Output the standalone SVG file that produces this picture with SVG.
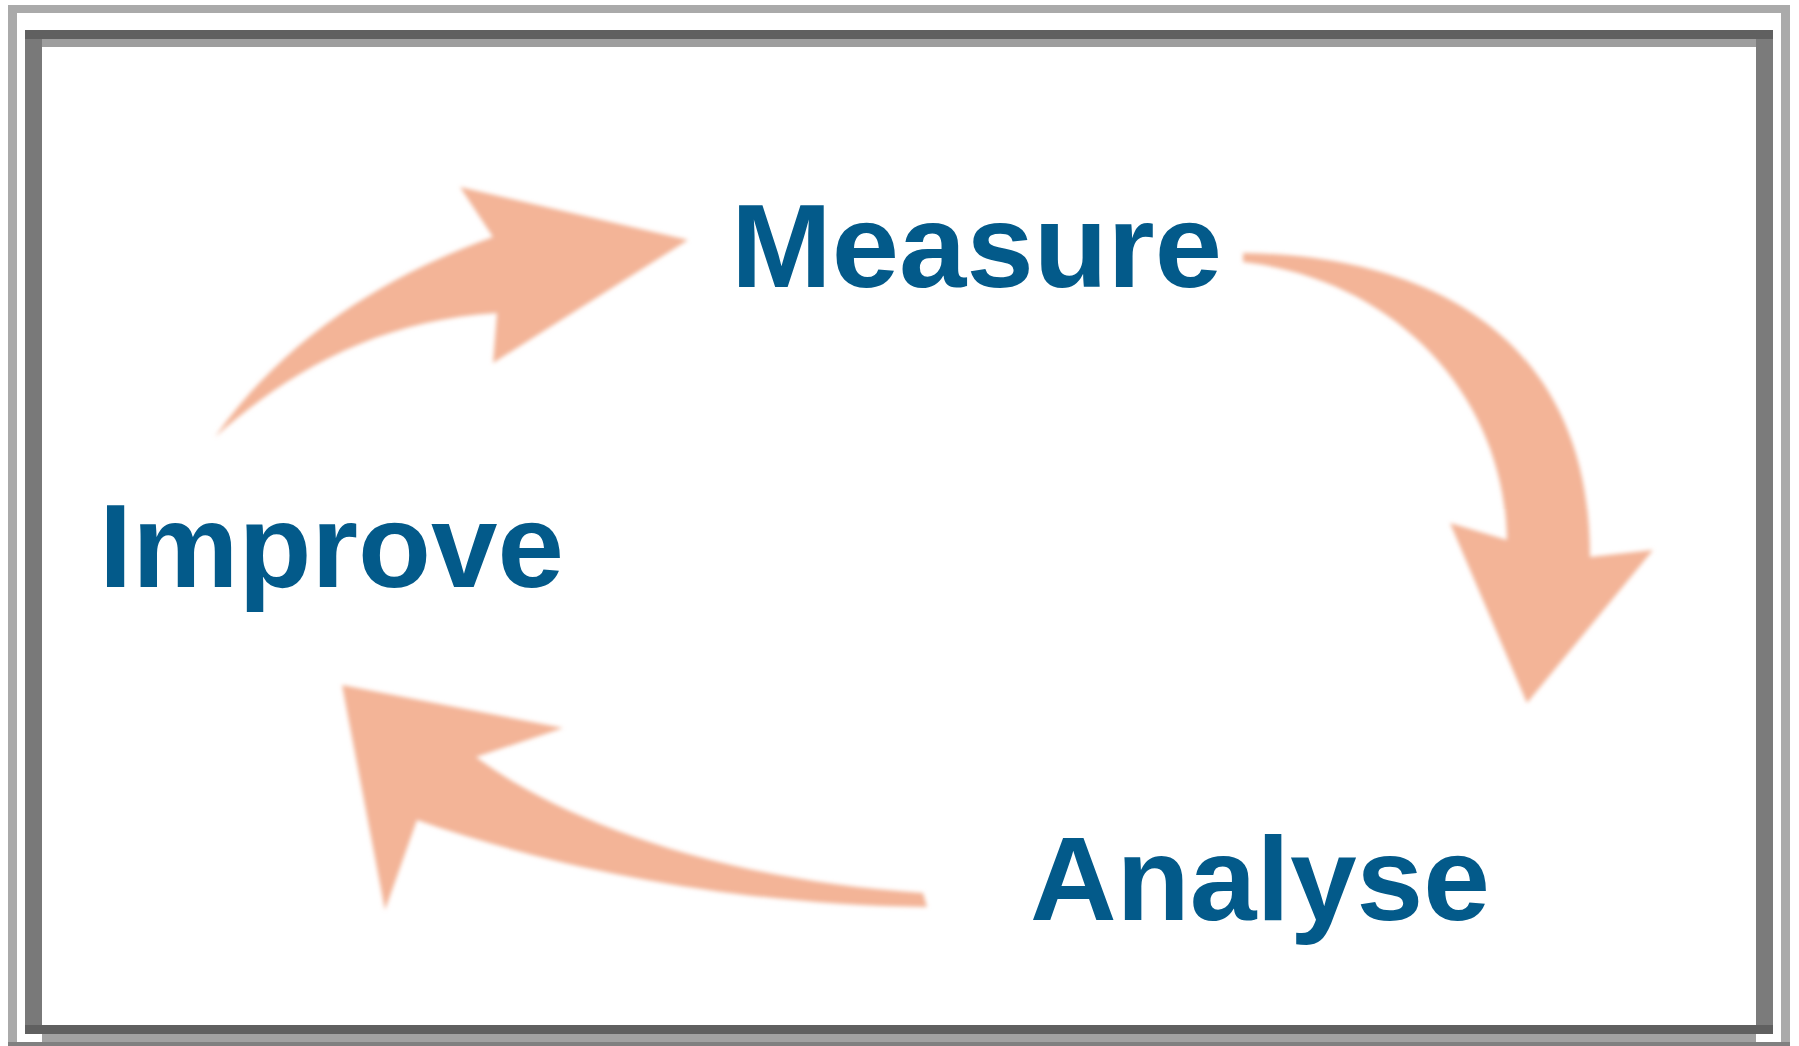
<svg xmlns="http://www.w3.org/2000/svg" width="1799" height="1046" viewBox="0 0 1799 1046">
  <style>
    .lbl { font-family: "Liberation Sans", Arial, sans-serif; font-weight: bold; font-size: 118px; fill: #035a8a; }
    .arr { fill: #f3b497; filter: url(#soft); }
  </style>
  <defs>
    <filter id="soft" x="-10%" y="-10%" width="120%" height="120%">
      <feGaussianBlur stdDeviation="2.2"/>
    </filter>
  </defs>
  <rect x="0" y="0" width="1799" height="1046" fill="#ffffff"/>
  <g id="frame">
    <rect x="8" y="5" width="1782" height="8" fill="#aaaaaa"/>
    <rect x="8" y="5" width="9" height="1041" fill="#aaaaaa"/>
    <rect x="1781" y="5" width="9" height="1041" fill="#aaaaaa"/>
    <rect x="8" y="1042" width="1782" height="4" fill="#808080"/>
    <rect x="25" y="30" width="1748" height="9" fill="#606060"/>
    <rect x="42" y="39" width="1714" height="8" fill="#9e9e9e"/>
    <rect x="25" y="39" width="17" height="994" fill="#797979"/>
    <rect x="1756" y="39" width="17" height="994" fill="#7b7b7b"/>
    <rect x="25" y="1025" width="1748" height="9" fill="#606060"/>
    <rect x="42" y="1034" width="1714" height="8" fill="#a2a2a2"/>
  </g>
  <g id="connectors">
    <path class="arr" d="M 688 240 L 460 187 L 493 237 C 400 270, 290 330, 215 437 C 290 370, 380 320, 497 313 L 493 363 Z"/>
    <path class="arr" d="M 1243 253 C 1420 255, 1590 330, 1590 557 L 1653 550 L 1527 703 L 1450 523 L 1507 540 C 1505 400, 1400 280, 1243 262 Z"/>
    <path class="arr" d="M 342 685 L 563 728 L 476 757 C 560 820, 720 880, 923 893 L 927 907 C 740 905, 560 870, 417 820 L 385 910 Z"/>
  </g>
  <g id="node-measure">
    <text class="lbl" x="731" y="287" textLength="491" lengthAdjust="spacingAndGlyphs">Measure</text>
  </g>
  <g id="node-improve">
    <text class="lbl" x="99" y="587" textLength="465" lengthAdjust="spacingAndGlyphs">Improve</text>
  </g>
  <g id="node-analyse">
    <text class="lbl" x="1030" y="920" textLength="460" lengthAdjust="spacingAndGlyphs">Analyse</text>
  </g>
</svg>
